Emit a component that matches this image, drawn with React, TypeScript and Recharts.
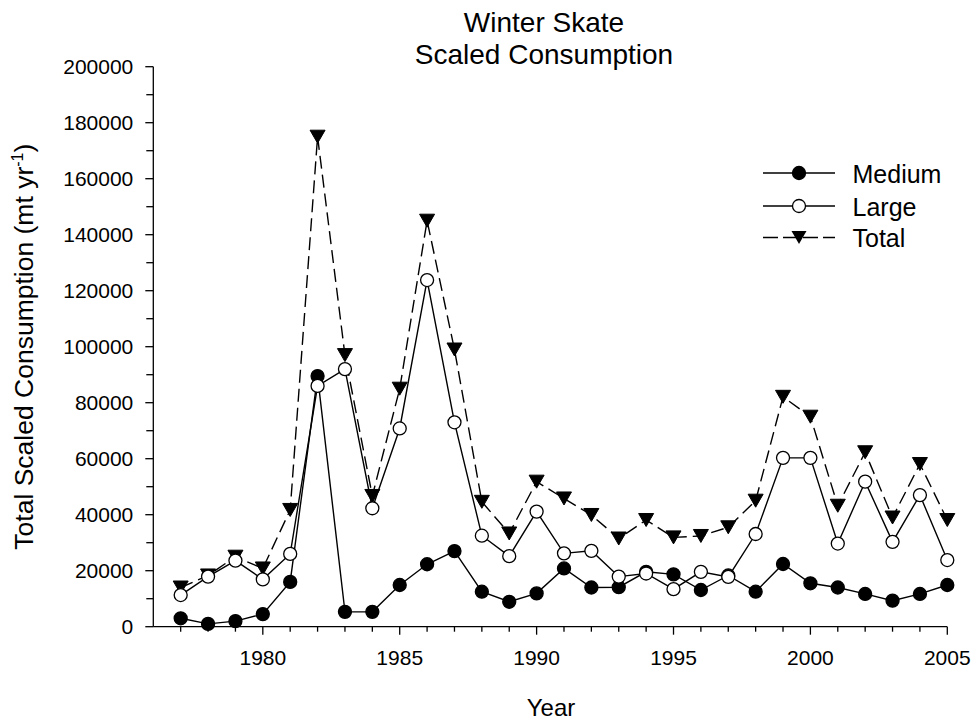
import { LineChart, Line, XAxis, YAxis, Legend } from "recharts";

// values
const years = [
  1977, 1978, 1979, 1980, 1981, 1982, 1983, 1984, 1985, 1986, 1987, 1988, 1989, 1990, 1991,
  1992, 1993, 1994, 1995, 1996, 1997, 1998, 1999, 2000, 2001, 2002, 2003, 2004, 2005,
];
const medium = [
  3000, 1000, 2000, 4500, 16000, 89500, 5300, 5300, 14900, 22300, 27000, 12500, 8900, 11900, 20800,
  14000, 14100, 19600, 18700, 13100, 18300, 12500, 22400, 15500, 14000, 11700, 9300, 11700, 14900,
];
const large = [
  11300, 17900, 23600, 16900, 26000, 86000, 92000, 42300, 70800, 123800, 73000, 32500, 25200, 41100, 26200,
  27100, 17900, 19000, 13400, 19600, 17800, 33100, 60300, 60300, 29700, 51800, 30300, 47000, 23800,
];
const total = [
  14000, 18300, 25000, 20800, 41700, 175000, 97000, 46700, 85000, 145000, 99000, 44600, 33300, 51800, 45800,
  39900, 31500, 38100, 31900, 32400, 35500, 45000, 82100, 75000, 43200, 62300, 39000, 58100, 38100,
];
const xLabelYears = [1980, 1985, 1990, 1995, 2000, 2005];
const yTicks = [
  0, 10000, 20000, 30000, 40000, 50000, 60000, 70000, 80000, 90000, 100000, 110000, 120000, 130000,
  140000, 150000, 160000, 170000, 180000, 190000, 200000,
];
const yLabelTicks = [0, 20000, 40000, 60000, 80000, 100000, 120000, 140000, 160000, 180000, 200000];
const seriesNames = ["Medium", "Large", "Total"];

const data = years.map((year, i) => ({
  year,
  medium: medium[i],
  large: large[i],
  total: total[i],
}));

const FONT = '"Liberation Sans", Arial, Helvetica, sans-serif';
const DASH = "13 6";

function XTick(props: any) {
  const { x, y, payload } = props;
  const major = xLabelYears.includes(payload.value);
  return (
    <g>
      <line x1={x} x2={x} y1={y} y2={y + (major ? 8 : 5)} stroke="#000" strokeWidth={1.3} />
      {major && (
        <text x={x} y={y + 38} textAnchor="middle" fontSize={21} fontFamily={FONT} fill="#000">
          {payload.value}
        </text>
      )}
    </g>
  );
}

function YTick(props: any) {
  const { x, y, payload } = props;
  const major = yLabelTicks.includes(payload.value);
  return (
    <g>
      <line x1={x - (major ? 8 : 7)} x2={x} y1={y} y2={y} stroke="#000" strokeWidth={1.3} />
      {major && (
        <text x={x - 20} y={y + 7.5} textAnchor="end" fontSize={21} fontFamily={FONT} fill="#000">
          {payload.value}
        </text>
      )}
    </g>
  );
}

function Triangle(props: any) {
  const { cx, cy, index } = props;
  if (cx == null || cy == null) return null;
  return (
    <path
      key={`tri-${index}`}
      d={`M${cx - 7.5},${cy - 6.5}L${cx + 7.5},${cy - 6.5}L${cx},${cy + 6.5}Z`}
      fill="#000"
      stroke="#000"
      strokeWidth={1}
    />
  );
}

function LegendBox() {
  const rowY = [23, 56, 87.5];
  return (
    <svg width={220} height={110} style={{ overflow: "visible" }}>
      {seriesNames.map((name, i) => {
        const y = rowY[i];
        return (
          <g key={name}>
            <line
              x1={8}
              x2={80}
              y1={y}
              y2={y}
              stroke="#000"
              strokeWidth={1.4}
              strokeDasharray={name === "Total" ? "15 5" : undefined}
            />
            {name === "Total" ? (
              <path d={`M36.5,${y - 6.5}L51.5,${y - 6.5}L44,${y + 6.5}Z`} fill="#000" />
            ) : (
              <circle
                cx={44}
                cy={y}
                r={6.5}
                fill={name === "Medium" ? "#000" : "#fff"}
                stroke="#000"
                strokeWidth={1.3}
              />
            )}
            <text x={97.5} y={y + 9.5} fontSize={25} fontFamily={FONT} fill="#000">
              {name}
            </text>
          </g>
        );
      })}
    </svg>
  );
}

export default function App() {
  return (
    <div style={{ position: "absolute", left: 0, top: 0, width: 973, height: 721, background: "#fff" }}>
      <LineChart
        width={973}
        height={721}
        data={data}
        margin={{ top: 66.7, right: 25.7, bottom: 0, left: 0 }}
      >
        <XAxis
          dataKey="year"
          type="number"
          domain={[1976, 2005]}
          ticks={years}
          interval={0}
          height={94.3}
          tickSize={0}
          tickMargin={0}
          tickLine={false}
          tick={XTick}
          axisLine={{ stroke: "#000", strokeWidth: 1.3 }}
        />
        <YAxis
          type="number"
          domain={[0, 200000]}
          ticks={yTicks}
          interval={0}
          width={153.3}
          tickSize={0}
          tickMargin={0}
          tickLine={false}
          tick={YTick}
          axisLine={{ stroke: "#000", strokeWidth: 1.3 }}
        />
        <Legend
          layout="vertical"
          align="center"
          verticalAlign="middle"
          content={LegendBox}
          wrapperStyle={{ left: 755, top: 150, width: 220, height: 110 }}
        />
        <Line
          dataKey="total"
          name="Total"
          stroke="#000"
          strokeWidth={1.4}
          strokeDasharray={DASH}
          type="linear"
          dot={Triangle}
          activeDot={false}
          isAnimationActive={false}
        />
        <Line
          dataKey="medium"
          name="Medium"
          stroke="#000"
          strokeWidth={1.4}
          type="linear"
          dot={{ r: 6.5, fill: "#000", stroke: "#000", strokeWidth: 1.3 }}
          activeDot={false}
          isAnimationActive={false}
        />
        <Line
          dataKey="large"
          name="Large"
          stroke="#000"
          strokeWidth={1.4}
          type="linear"
          dot={{ r: 6.5, fill: "#fff", stroke: "#000", strokeWidth: 1.3 }}
          activeDot={false}
          isAnimationActive={false}
        />
      </LineChart>
      <svg
        width={973}
        height={721}
        style={{ position: "absolute", left: 0, top: 0, pointerEvents: "none" }}
      >
        <text x={544} y={31.5} textAnchor="middle" fontSize={28} fontFamily={FONT} fill="#000">
          Winter Skate
        </text>
        <text x={544} y={64} textAnchor="middle" fontSize={28} fontFamily={FONT} fill="#000">
          Scaled Consumption
        </text>
        <text x={551} y={716} textAnchor="middle" fontSize={24} fontFamily={FONT} fill="#000">
          Year
        </text>
        <text
          x={33}
          y={346.7}
          transform="rotate(-90 33 346.7)"
          textAnchor="middle"
          fontSize={26.5}
          fontFamily={FONT}
          fill="#000"
        >
          Total Scaled Consumption (mt yr
          <tspan fontSize={16} dy={-10}>-1</tspan>
          <tspan dy={10}>)</tspan>
        </text>
      </svg>
    </div>
  );
}
